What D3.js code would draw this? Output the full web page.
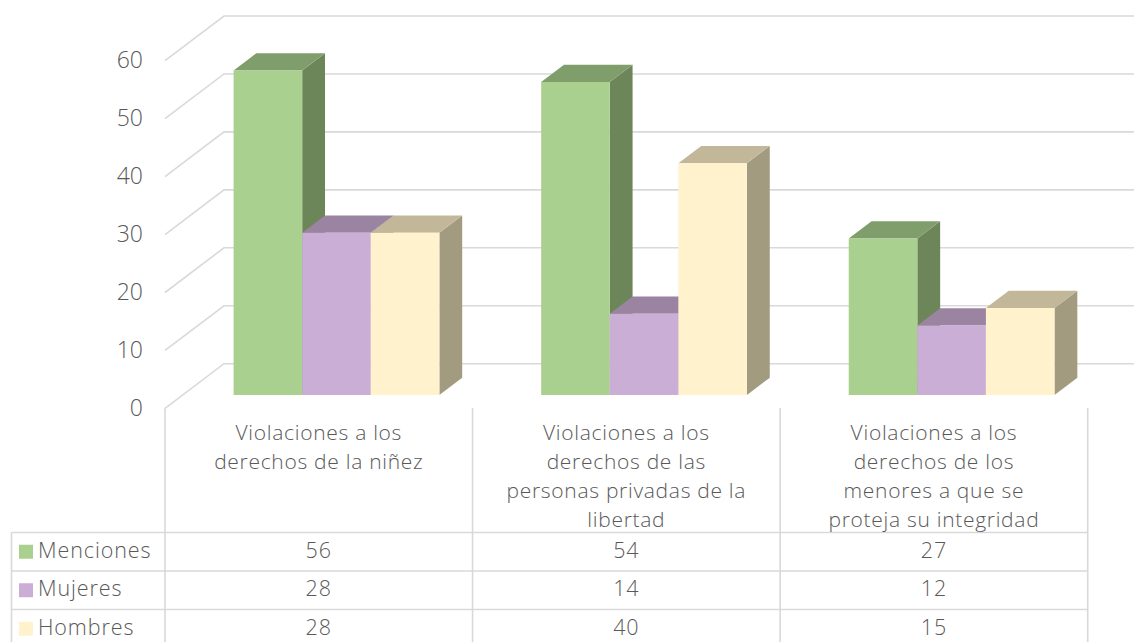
<!DOCTYPE html>
<html>
<head>
<meta charset="utf-8">
<script src="https://cdn.jsdelivr.net/npm/d3@7"></script>
<style>
  body { margin: 0; background: #fff; }
  svg text { font-family: "Open Sans", sans-serif; font-weight: 350; fill: #595959; }
</style>
</head>
<body>
<div id="chart"></div>
<script>
// data
var categories = [
  ["Violaciones a los", "derechos de la niñez"],
  ["Violaciones a los", "derechos de las", "personas privadas de la", "libertad"],
  ["Violaciones a los", "derechos de los", "menores a que se", "proteja su integridad"]
];
var seriesNames = ["Menciones", "Mujeres", "Hombres"];
var menciones = [56, 54, 27];
var mujeres = [28, 14, 12];
var hombres = [28, 40, 15];
var yTicks = [0, 10, 20, 30, 40, 50, 60];

var seriesValues = [menciones, mujeres, hombres];
// front, top, side colours per series
var colors = [
  {front: "#a9d08e", top: "#809e6b", side: "#6c8659"},
  {front: "#cbaed6", top: "#9a84a1", side: "#88738e"},
  {front: "#fff2cc", top: "#c2b899", side: "#a29b80"}
];

var width = 1134, height = 642;
var DX = 59, DY = 44.7;          // depth offset of back wall vs. front plane
var zFront = 0.70, zBack = 0.313; // bar depth (0 = back wall, 1 = front)

var svg = d3.select("#chart").append("svg")
    .attr("width", width)
    .attr("height", height);

var y = d3.scaleLinear().domain([0, 60]).range([408.4, 60.7]);
var x = d3.scaleBand().domain(d3.range(categories.length)).range([165, 1087.7]).padding(0);
var xs = d3.scaleBand().domain(seriesNames).range([0, x.bandwidth()])
    .paddingInner(0).paddingOuter(0.742);

function proj(px, v, z) {
  return [px + (1 - z) * DX, y(v) - (1 - z) * DY];
}

// walls / gridlines
var grid = svg.append("g").attr("stroke", "#d9d9d9").attr("stroke-width", 1.6).attr("fill", "none");
yTicks.forEach(function(t) {
  var b = proj(165, t, 0), f = proj(165, t, 1);
  grid.append("path").attr("d", "M" + f + "L" + b + "L" + width + "," + b[1]);
});

// y tick labels
svg.append("g").selectAll("text")
  .data(yTicks).enter().append("text")
    .attr("x", 143)
    .attr("y", function(d) { return y(d) + 1; })
    .attr("text-anchor", "end")
    .attr("dominant-baseline", "middle")
    .style("font-size", "23px")
    .text(function(d) { return d; });

// bars
var bars = svg.append("g");
categories.forEach(function(c, ci) {
  seriesNames.forEach(function(s, si) {
    var v = seriesValues[si][ci];
    var x0 = x(ci) + xs(s), x1 = x0 + xs.bandwidth();
    var a = proj(x0, 0, zFront), b = proj(x1, 0, zFront),
        cT = proj(x1, v, zFront), d = proj(x0, v, zFront);
    var e = proj(x0, v, zBack), f = proj(x1, v, zBack), g = proj(x1, 0, zBack);
    // side
    bars.append("path").attr("d", "M" + b + "L" + g + "L" + f + "L" + cT + "Z")
      .attr("fill", colors[si].side);
    // top
    bars.append("path").attr("d", "M" + d + "L" + cT + "L" + f + "L" + e + "Z")
      .attr("fill", colors[si].top);
    // front
    bars.append("path").attr("d", "M" + a + "L" + b + "L" + cT + "L" + d + "Z")
      .attr("fill", colors[si].front);
  });
});

// data table
var rowTop = 532.5, rowH = 38.5;
var table = svg.append("g").attr("stroke", "#d9d9d9").attr("stroke-width", 1.6).attr("fill", "none");
x.domain().forEach(function(i) {
  table.append("line").attr("x1", x(i)).attr("x2", x(i)).attr("y1", 408).attr("y2", height);
});
table.append("line").attr("x1", x.range()[1]).attr("x2", x.range()[1]).attr("y1", 408).attr("y2", height);
table.append("line").attr("x1", 11.5).attr("x2", 11.5).attr("y1", rowTop).attr("y2", height);
seriesNames.forEach(function(s, i) {
  table.append("line").attr("x1", 11.5).attr("x2", x.range()[1])
    .attr("y1", rowTop + i * rowH).attr("y2", rowTop + i * rowH);
});

// category headers
var head = svg.append("g");
categories.forEach(function(lines, ci) {
  head.append("text")
    .attr("x", x(ci) + x.bandwidth() / 2)
    .attr("y", 440)
    .attr("text-anchor", "middle")
    .style("font-size", "21px")
    .style("letter-spacing", "0.7px")
    .selectAll("tspan").data(lines).enter().append("tspan")
      .attr("x", x(ci) + x.bandwidth() / 2)
      .attr("dy", function(d, i) { return i === 0 ? 0 : 29; })
      .text(function(d) { return d; });
});

// rows
var rows = svg.append("g");
seriesNames.forEach(function(s, si) {
  var cy = rowTop + si * rowH + rowH / 2;
  rows.append("rect").attr("x", 19).attr("y", cy - 7).attr("width", 14).attr("height", 14)
    .attr("fill", colors[si].front);
  rows.append("text").attr("x", 38).attr("y", cy)
    .attr("dominant-baseline", "middle")
    .style("font-size", "21.5px")
    .style("letter-spacing", "0.9px")
    .text(s);
  seriesValues[si].forEach(function(v, ci) {
    rows.append("text")
      .attr("x", x(ci) + x.bandwidth() / 2)
      .attr("y", cy)
      .attr("text-anchor", "middle")
      .attr("dominant-baseline", "middle")
      .style("font-size", "21.5px")
      .style("letter-spacing", "0.9px")
      .text(v);
  });
});
</script>
</body>
</html>
